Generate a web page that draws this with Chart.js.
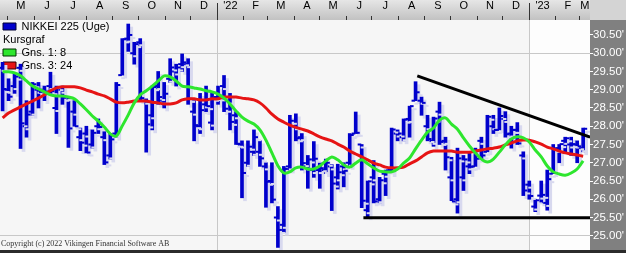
<!DOCTYPE html>
<html>
<head>
<meta charset="utf-8">
<script src="https://cdn.jsdelivr.net/npm/chart.js@4.4.1/dist/chart.umd.min.js"></script>
<style>
  html, body { margin: 0; padding: 0; background: #2b2b2b; }
  #chart { display: block; }
</style>
</head>
<body>
<canvas id="chart" width="626" height="250"></canvas>
<script>
// Nikkei 225, weekly bars (in thousands). One bar per week, dated on the week's Sunday.
// x values are days counted from 1 Jan 2022.
const firstWeekDay = -251; // Sunday 25 Apr 2021

const opens = [
    29.60, 29.00, 29.10, 29.60, 28.00, 28.40, 29.00, 29.00, 29.10, 28.50,
    29.00, 28.80, 28.40, 27.70, 27.80, 27.50, 28.00, 27.70, 27.20, 27.80,
    29.40, 30.40, 30.00, 30.30, 28.70, 28.30, 29.10, 28.70, 29.30, 29.50,
    29.70, 29.70, 28.40, 28.00, 28.60, 28.10, 28.80, 29.10, 28.70, 28.30,
    27.50, 27.00, 27.30, 27.30, 26.90, 26.50, 25.50, 25.30, 26.90, 28.00,
    27.70, 26.90, 26.80, 26.80, 26.80, 26.90, 26.60, 26.90, 27.00, 27.80,
    27.50, 25.70, 26.60, 26.00, 26.70, 26.80, 27.80, 27.70, 28.20, 28.70,
    28.70, 28.00, 27.60, 28.40, 27.60, 26.60, 26.00, 26.60, 26.90, 26.90,
    27.60, 27.30, 28.00, 27.90, 28.20, 27.80, 27.90, 27.20, 26.40, 25.80,
    26.10, 25.90, 26.70, 27.40, 27.60, 27.50, 27.50, 27.40
];
const highs = [
    29.75, 29.30, 29.45, 29.70, 28.70, 29.20, 29.20, 29.10, 29.48, 29.10,
    29.10, 28.80, 28.70, 27.95, 28.00, 27.90, 28.20, 27.85, 27.80, 29.20,
    30.40, 30.80, 30.30, 30.40, 28.75, 29.10, 29.50, 29.20, 29.85, 29.70,
    29.98, 29.85, 28.70, 28.90, 29.10, 28.90, 29.10, 29.39, 28.90, 28.40,
    27.60, 27.60, 27.90, 27.60, 27.00, 27.00, 25.80, 26.90, 28.30, 28.34,
    27.80, 27.20, 27.58, 27.00, 27.10, 26.95, 26.96, 27.00, 27.80, 28.39,
    27.50, 26.50, 27.06, 26.60, 26.80, 27.95, 27.90, 28.20, 28.55, 29.22,
    28.80, 28.30, 28.25, 28.66, 27.70, 27.15, 27.40, 27.20, 27.30, 27.40,
    27.70, 28.30, 28.30, 28.50, 28.40, 28.00, 28.10, 27.30, 26.50, 26.00,
    26.50, 26.80, 27.50, 27.50, 27.70, 27.70, 27.60, 27.95
];
const lows = [
    28.42, 28.70, 28.90, 27.39, 27.70, 28.30, 28.50, 28.70, 28.90, 27.80,
    28.60, 27.42, 28.00, 27.33, 27.27, 27.40, 27.80, 26.95, 27.10, 27.70,
    29.40, 30.05, 29.70, 28.70, 27.29, 27.90, 28.60, 28.50, 29.20, 29.10,
    29.50, 28.60, 27.60, 27.80, 28.40, 27.90, 28.60, 28.40, 27.90, 27.50,
    26.04, 26.90, 27.20, 26.90, 25.78, 25.90, 24.68, 25.10, 26.80, 27.60,
    26.80, 26.30, 26.60, 26.30, 26.70, 25.69, 26.28, 26.34, 26.90, 27.80,
    25.77, 25.52, 25.90, 25.90, 26.10, 26.70, 27.60, 27.60, 27.70, 28.70,
    28.30, 27.60, 27.45, 27.50, 26.80, 25.96, 25.62, 26.24, 26.70, 26.90,
    27.10, 27.30, 27.80, 27.90, 27.70, 27.40, 27.50, 26.10, 26.00, 25.66,
    25.90, 25.70, 26.70, 27.00, 27.30, 27.20, 27.00, 27.30
];
const closes = [
    29.02, 28.81, 29.36, 28.08, 28.32, 29.15, 28.94, 28.95, 28.96, 29.07,
    28.78, 27.94, 28.00, 27.55, 27.28, 27.82, 27.98, 27.01, 27.64, 29.13,
    30.38, 30.50, 30.25, 28.77, 28.05, 29.07, 28.80, 28.89, 29.61, 29.61,
    29.75, 28.75, 28.03, 28.44, 28.55, 28.78, 28.79, 28.48, 28.12, 27.52,
    26.72, 27.44, 27.70, 27.12, 26.48, 25.99, 25.16, 26.83, 28.15, 27.67,
    26.99, 27.09, 27.11, 26.85, 27.00, 26.43, 26.74, 26.78, 27.76, 27.82,
    25.96, 26.49, 25.94, 26.52, 26.79, 27.91, 27.80, 28.18, 28.55, 28.93,
    28.64, 27.65, 28.21, 27.57, 27.15, 25.94, 27.12, 27.09, 26.89, 27.11,
    27.20, 28.26, 27.90, 28.28, 27.78, 27.90, 27.53, 26.24, 26.09, 25.97,
    26.12, 26.55, 27.38, 27.51, 27.67, 27.51, 27.45, 27.93
];
// "Gns. 1: 8" (green) and "Gns. 3: 24" (red) per week
const avg8 = [
    29.49, 29.49, 29.46, 29.38, 29.24, 29.10, 29.02, 28.94, 28.86, 28.83,
    28.83, 28.80, 28.75, 28.61, 28.45, 28.28, 28.14, 27.98, 27.79, 27.73,
    28.01, 28.31, 28.64, 28.86, 28.97, 29.10, 29.24, 29.38, 29.35, 29.24,
    29.10, 29.08, 29.05, 29.02, 28.97, 28.94, 28.88, 28.77, 28.61, 28.42,
    28.25, 28.14, 28.06, 27.90, 27.62, 27.27, 26.92, 26.72, 26.75, 26.86,
    26.88, 26.83, 26.83, 26.91, 27.05, 27.16, 27.08, 26.94, 26.88, 26.99,
    27.08, 26.97, 26.86, 26.77, 26.75, 26.75, 26.83, 26.99, 27.13, 27.38,
    27.62, 27.84, 27.95, 28.17, 28.23, 28.06, 27.92, 27.68, 27.46, 27.27,
    27.10, 27.02, 27.10, 27.29, 27.49, 27.65, 27.71, 27.68, 27.57, 27.35,
    27.16, 26.91, 26.75, 26.69, 26.66, 26.72, 26.83, 27.05
];
const avg24 = [
    28.23, 28.36, 28.45, 28.53, 28.61, 28.69, 28.77, 28.86, 28.97, 29.05,
    29.08, 29.08, 29.08, 29.05, 28.99, 28.94, 28.88, 28.83, 28.75, 28.66,
    28.64, 28.66, 28.69, 28.69, 28.69, 28.66, 28.64, 28.61, 28.61, 28.64,
    28.72, 28.75, 28.75, 28.72, 28.72, 28.75, 28.75, 28.80, 28.80, 28.80,
    28.77, 28.75, 28.72, 28.64, 28.50, 28.33, 28.20, 28.11, 28.03, 27.97,
    27.92, 27.87, 27.79, 27.71, 27.65, 27.60, 27.51, 27.43, 27.32, 27.24,
    27.16, 27.08, 26.99, 26.94, 26.88, 26.86, 26.86, 26.88, 26.97, 27.05,
    27.16, 27.27, 27.32, 27.32, 27.32, 27.32, 27.29, 27.29, 27.29, 27.32,
    27.35, 27.38, 27.40, 27.43, 27.49, 27.54, 27.60, 27.62, 27.62, 27.57,
    27.51, 27.43, 27.38, 27.32, 27.27, 27.24, 27.21, 27.18
];
// hand drawn trend lines: {day, price}
const resistanceLine = [{ x: 234, y: 29.38 }, { x: 436, y: 27.70 }];
const supportLine = [{ x: 171, y: 25.49 }, { x: 436, y: 25.49 }];

const priceTicks = [25.0, 25.5, 26.0, 26.5, 27.0, 27.5, 28.0, 28.5, 29.0, 29.5, 30.0, 30.5];
const monthLetters = ['J', 'F', 'M', 'A', 'M', 'J', 'J', 'A', 'S', 'O', 'N', 'D'];

const dayMin = -254;
const dayMax = 436;

function dayOf(y, m, d) {
    return Math.round((Date.UTC(y, m, d) - Date.UTC(2022, 0, 1)) / 86400000);
}

function weekDay(i) {
    return firstWeekDay + 7 * i;
}

function monthTicks() {
    const ticks = [];
    for (let y = 2021; y <= 2023; y++) {
        for (let m = 0; m < 12; m++) {
            const start = dayOf(y, m, 1);
            const end = dayOf(y, m + 1, 1);
            if (end <= dayMin || start >= dayMax) continue;
            if (start > dayMin) ticks.push({ value: start, text: '', edge: true, year: m === 0 });
            const a = Math.max(start, dayMin);
            const b = Math.min(end, dayMax);
            if (b - a > 10) {
                ticks.push({ value: (a + b) / 2, text: m === 0 ? "'" + String(y).slice(2) : monthLetters[m] });
            }
        }
    }
    return ticks.sort((p, q) => p.value - q.value);
}

const blue = '#0000cc';
const legendFont = '11px "Liberation Sans"';

// paint the panels behind the plot (top date strip, right price strip)
const panelsPlugin = {
    id: 'panels',
    afterLayout(chart) {
        // legend sits inside the plot, top left corner
        const lg = chart.legend;
        lg.top = chart.chartArea.top - 1;
        lg.bottom = lg.top + lg.height;
        lg.left = chart.chartArea.left + 1;
    },
    beforeDraw(chart) {
        const { ctx, chartArea: area, width, height } = chart;
        const x23 = chart.scales.x.getPixelForValue(dayOf(2023, 0, 1));
        ctx.save();
        ctx.fillStyle = '#f6f6f6';
        ctx.fillRect(0, area.top, area.right, height - area.top);
        ctx.fillStyle = '#fdfdfd';
        ctx.fillRect(x23, area.top, area.right - x23, height - area.top);
        const grad = ctx.createLinearGradient(0, 0, 0, area.top);
        grad.addColorStop(0, '#e6e6e6');
        grad.addColorStop(1, '#c2c2c2');
        ctx.fillStyle = grad;
        ctx.fillRect(0, 0, area.right, area.top);
        ctx.fillStyle = '#d4d4d4';
        ctx.fillRect(area.right, 0, width - area.right, area.top);
        ctx.fillStyle = '#808080';
        ctx.fillRect(area.right, area.top, width - area.right, height - area.top);
        ctx.restore();
    },
    afterDraw(chart) {
        const { ctx, chartArea: area } = chart;
        ctx.save();
        // taller marks at the year changes
        ctx.strokeStyle = '#333333';
        ctx.lineWidth = 1;
        [dayOf(2022, 0, 1), dayOf(2023, 0, 1)].forEach(d => {
            const px = Math.round(chart.scales.x.getPixelForValue(d)) + 0.5;
            ctx.beginPath();
            ctx.moveTo(px, 3);
            ctx.lineTo(px, area.top);
            ctx.stroke();
        });
        // second legend row has no colour box
        ctx.fillStyle = '#000000';
        ctx.font = legendFont;
        ctx.textBaseline = 'middle';
        ctx.fillText('Kursgraf', area.left + 3, chart.legend.top + 2 + 13 + 5.5);
        ctx.fillStyle = '#333333';
        ctx.font = '8px "Liberation Serif"';
        ctx.textBaseline = 'alphabetic';
        ctx.fillText('Copyright (c) 2022 Vikingen Financial Software AB', 1, 246);
        ctx.restore();
    }
};

// light drop shadow behind the price bars
const shadowPlugin = {
    id: 'barShadow',
    beforeDatasetDraw(chart, args) {
        if (!chart.data.datasets[args.index].shadow) return;
        const ctx = chart.ctx;
        ctx.save();
        ctx.shadowColor = '#d8d9ef';
        ctx.shadowOffsetX = 3;
        ctx.shadowOffsetY = 3;
        ctx.shadowBlur = 0;
    },
    afterDatasetDraw(chart, args) {
        if (!chart.data.datasets[args.index].shadow) return;
        chart.ctx.restore();
    }
};

const tickShift = 2.6; // days, puts open/close ticks beside the bar

new Chart(document.getElementById('chart'), {
    type: 'bar',
    data: {
        datasets: [
            {
                type: 'line',
                label: 'resistance',
                data: resistanceLine,
                borderColor: '#000000',
                borderWidth: 3,
                pointRadius: 0,
                order: 0
            },
            {
                type: 'line',
                label: 'support',
                data: supportLine,
                borderColor: '#000000',
                borderWidth: 3,
                pointRadius: 0,
                order: 0
            },
            {
                type: 'line',
                label: 'Gns. 1: 8',
                data: avg8.map((v, i) => ({ x: weekDay(i), y: v })),
                borderColor: '#2ee62e',
                borderWidth: 3,
                pointRadius: 0,
                tension: 0.3,
                order: 1
            },
            {
                type: 'line',
                label: 'Gns. 3: 24',
                data: avg24.map((v, i) => ({ x: weekDay(i), y: v })),
                borderColor: '#e61414',
                borderWidth: 3,
                pointRadius: 0,
                tension: 0.3,
                order: 1
            },
            {
                type: 'scatter',
                label: 'close',
                data: closes.map((v, i) => ({ x: weekDay(i) + tickShift, y: v })),
                pointStyle: 'line',
                pointRadius: 1.8,
                pointBorderWidth: 2,
                borderColor: blue,
                shadow: true,
                order: 2
            },
            {
                type: 'scatter',
                label: 'open',
                data: opens.map((v, i) => ({ x: weekDay(i) - tickShift, y: v })),
                pointStyle: 'line',
                pointRadius: 1.8,
                pointBorderWidth: 2,
                borderColor: blue,
                shadow: true,
                order: 3
            },
            {
                type: 'bar',
                label: 'NIKKEI 225 (Uge)',
                data: highs.map((h, i) => ({ x: weekDay(i), y: [lows[i], h] })),
                backgroundColor: blue,
                borderWidth: 0,
                barThickness: 3,
                grouped: false,
                shadow: true,
                order: 4
            }
        ]
    },
    options: {
        responsive: false,
        animation: false,
        devicePixelRatio: 1,
        layout: { padding: 0, autoPadding: false },
        scales: {
            x: {
                type: 'linear',
                position: 'top',
                min: dayMin,
                max: dayMax,
                offset: false,
                afterBuildTicks: scale => { scale.ticks = monthTicks(); },
                afterFit: scale => {
                    scale.height = 20;
                    scale.paddingLeft = 0;
                    scale.paddingRight = 0;
                },
                border: { display: false },
                grid: {
                    offset: false,
                    tickLength: 4,
                    color: ctx => (ctx.tick && ctx.tick.year ? '#c8c8c8' : 'rgba(0,0,0,0)'),
                    tickColor: ctx => (ctx.tick && ctx.tick.edge ? '#333333' : 'rgba(0,0,0,0)')
                },
                ticks: {
                    autoSkip: false,
                    maxRotation: 0,
                    padding: 3,
                    color: '#000000',
                    font: { family: 'Liberation Sans', size: 11 },
                    callback: (value, index, ticks) => ticks[index].text
                }
            },
            y: {
                type: 'linear',
                position: 'right',
                min: 24.61,
                max: 30.91,
                afterBuildTicks: scale => { scale.ticks = priceTicks.map(v => ({ value: v })); },
                afterFit: scale => {
                    scale.width = 36;
                    scale.paddingTop = 0;
                    scale.paddingBottom = 0;
                },
                border: { display: false },
                grid: {
                    tickLength: 3,
                    color: ctx => (ctx.tick && (ctx.tick.value === 25 || ctx.tick.value === 30) ? '#c8c8c8' : 'rgba(0,0,0,0)'),
                    tickColor: '#ffffff'
                },
                ticks: {
                    padding: 0,
                    color: '#ffffff',
                    font: { family: 'Liberation Sans', size: 11.5 },
                    callback: value => value.toFixed(2) + "'"
                }
            }
        },
        plugins: {
            tooltip: { enabled: false },
            legend: {
                position: 'chartArea',
                align: 'start',
                labels: {
                    boxWidth: 13,
                    boxHeight: 7,
                    padding: 2,
                    color: '#000000',
                    font: { family: 'Liberation Sans', size: 11 },
                    generateLabels: () => [
                        { text: 'NIKKEI 225 (Uge)', fillStyle: blue, strokeStyle: '#000033', lineWidth: 1, fontColor: '#000' },
                        { text: '', fillStyle: 'rgba(0,0,0,0)', strokeStyle: 'rgba(0,0,0,0)', lineWidth: 1, fontColor: '#000' },
                        { text: 'Gns. 1: 8', fillStyle: '#2ee62e', strokeStyle: '#003300', lineWidth: 1, fontColor: '#000' },
                        { text: 'Gns. 3: 24', fillStyle: '#e61414', strokeStyle: '#330000', lineWidth: 1, fontColor: '#000' }
                    ]
                }
            }
        }
    },
    plugins: [panelsPlugin, shadowPlugin]
});
</script>
</body>
</html>
